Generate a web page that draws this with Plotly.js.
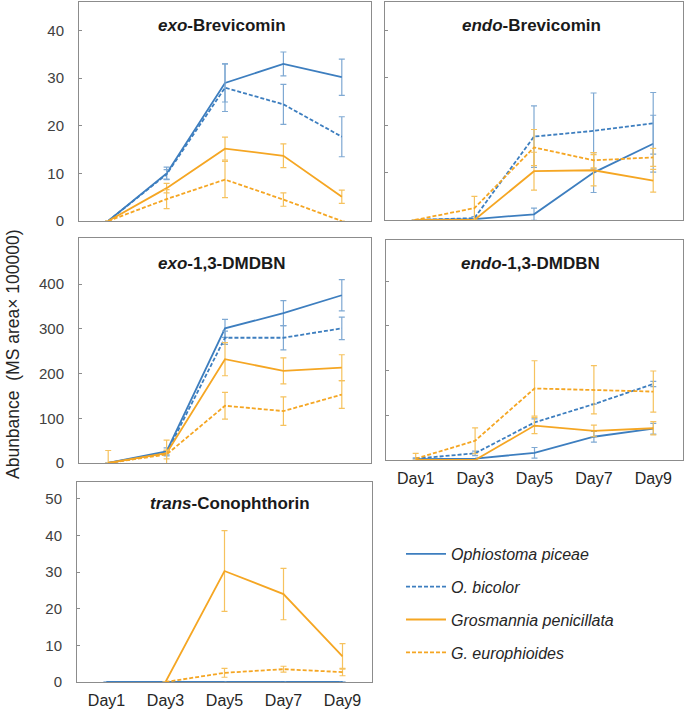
<!DOCTYPE html>
<html>
<head>
<meta charset="utf-8">
<script src="https://cdn.plot.ly/plotly-3.0.1.min.js"></script>
<style>html,body{margin:0;padding:0;background:#fff}#chart{width:685px;height:712px}</style>
</head>
<body>
<div id="chart"></div>
<script>
// ---------- DATA ----------
const days = ["Day1", "Day3", "Day5", "Day7", "Day9"];
const seriesNames = ["Ophiostoma piceae", "O. bicolor", "Grosmannia penicillata", "G. europhioides"];
const panelTitles = ["<i>exo</i>-Brevicomin", "<i>endo</i>-Brevicomin", "<i>exo</i>-1,3-DMDBN", "<i>endo</i>-1,3-DMDBN", "<i>trans</i>-Conophthorin"];
const yTitle = "Abunbance  (MS area× 100000)";
const brevTicks = [0, 10, 20, 30, 40];
const dmdbnTicks = [0, 100, 200, 300, 400];
const conTicks = [0, 10, 20, 30, 40, 50];

// exo-Brevicomin
const exoBrev_piceae = [0, 10, 29, 33, 30.2];
const exoBrev_piceae_err = [0, 1.3, 4, 2.5, 3.8];
const exoBrev_bicolor = [0, 9.8, 28, 24.5, 17.7];
const exoBrev_bicolor_err = [0, 1, 5, 4.2, 4.2];
const exoBrev_penicillata = [0, 6.9, 15.2, 13.7, 5.1];
const exoBrev_penicillata_err = [0, 1, 2.4, 2.5, 1.4];
const exoBrev_europhioides = [0, 4.6, 8.7, 4.5, 0];
const exoBrev_europhioides_err = [0, 2, 3.8, 1.4, 0];

// endo-Brevicomin
const endoBrev_piceae = [0, 0.2, 1.2, 10, 16.1];
const endoBrev_piceae_err = [0, 0, 1.3, 4.2, 6];
const endoBrev_bicolor = [0, 0.4, 17.6, 18.8, 20.4];
const endoBrev_bicolor_err = [0, 0.3, 6.5, 8, 6.5];
const endoBrev_penicillata = [0, 0, 10.3, 10.5, 8.3];
const endoBrev_penicillata_err = [0, 0, 4, 3.3, 2.4];
const endoBrev_europhioides = [0, 2.5, 15.3, 12.6, 13.2];
const endoBrev_europhioides_err = [0, 2.5, 3.8, 1.6, 1.9];

// exo-1,3-DMDBN
const exoDMDBN_piceae = [0, 26, 301, 335, 375];
const exoDMDBN_piceae_err = [0, 8, 20, 28, 35];
const exoDMDBN_bicolor = [0, 22, 280, 280, 301];
const exoDMDBN_bicolor_err = [0, 6, 15, 27, 25];
const exoDMDBN_penicillata = [0, 22, 232, 206, 213];
const exoDMDBN_penicillata_err = [28, 29, 37, 29, 29];
const exoDMDBN_europhioides = [0, 19, 128, 116, 153];
const exoDMDBN_europhioides_err = [0, 10, 30, 32, 31];

// endo-1,3-DMDBN
const endoDMDBN_piceae = [2, 3, 16, 52, 70];
const endoDMDBN_piceae_err = [3, 0, 12, 12, 12];
const endoDMDBN_bicolor = [3, 15, 84, 125, 170];
const endoDMDBN_bicolor_err = [0, 5, 8, 0, 6];
const endoDMDBN_penicillata = [0, 0, 77, 65, 71];
const endoDMDBN_penicillata_err = [0, 0, 18, 13, 15];
const endoDMDBN_europhioides = [3, 43, 160, 157, 153];
const endoDMDBN_europhioides_err = [12, 29, 62, 54, 46];

// trans-Conophthorin
const transCon_piceae = [0, 0, 0, 0, 0];
const transCon_piceae_err = [0, 0, 0, 0, 0];
const transCon_bicolor = [0, 0, 0, 0, 0];
const transCon_bicolor_err = [0, 0, 0, 0, 0];
const transCon_penicillata = [null, 0, 30.3, 24, 7];
const transCon_penicillata_err = [0, 0, 11, 7, 3.5];
const transCon_europhioides = [null, 0, 2.5, 3.5, 2.7];
const transCon_europhioides_err = [0, 0, 1.2, 0.8, 1];

// ---------- STYLE ----------
const W = 685, H = 712;
const BLUE = "#3d7ebf", BLUE_ERR = "#7fa9d3";
const ORANGE = "#f5a623", ORANGE_ERR = "#f6c25e";
const styles = [
  {color: BLUE, err: BLUE_ERR, dash: "solid"},
  {color: BLUE, err: BLUE_ERR, dash: "4px,2px"},
  {color: ORANGE, err: ORANGE_ERR, dash: "solid"},
  {color: ORANGE, err: ORANGE_ERR, dash: "4px,2px"}
];

const panels = [
  {data: [[exoBrev_piceae, exoBrev_piceae_err], [exoBrev_bicolor, exoBrev_bicolor_err], [exoBrev_penicillata, exoBrev_penicillata_err], [exoBrev_europhioides, exoBrev_europhioides_err]],
   box: [79, 371, 2, 221], yr: [0, 46], ticks: brevTicks, ylabels: true, xlabels: false, title: [222, 25]},
  {data: [[endoBrev_piceae, endoBrev_piceae_err], [endoBrev_bicolor, endoBrev_bicolor_err], [endoBrev_penicillata, endoBrev_penicillata_err], [endoBrev_europhioides, endoBrev_europhioides_err]],
   box: [385, 683, 2, 220], yr: [0, 46], ticks: brevTicks, ylabels: false, xlabels: false, title: [531, 25]},
  {data: [[exoDMDBN_piceae, exoDMDBN_piceae_err], [exoDMDBN_bicolor, exoDMDBN_bicolor_err], [exoDMDBN_penicillata, exoDMDBN_penicillata_err], [exoDMDBN_europhioides, exoDMDBN_europhioides_err]],
   box: [79, 371, 238, 463], yr: [0, 503], ticks: dmdbnTicks, ylabels: true, xlabels: false, title: [222, 263]},
  {data: [[endoDMDBN_piceae, endoDMDBN_piceae_err], [endoDMDBN_bicolor, endoDMDBN_bicolor_err], [endoDMDBN_penicillata, endoDMDBN_penicillata_err], [endoDMDBN_europhioides, endoDMDBN_europhioides_err]],
   box: [386, 683, 240, 460], yr: [0, 492], ticks: dmdbnTicks, ylabels: false, xlabels: true, title: [530, 263]},
  {data: [[transCon_piceae, transCon_piceae_err], [transCon_bicolor, transCon_bicolor_err], [transCon_penicillata, transCon_penicillata_err], [transCon_europhioides, transCon_europhioides_err]],
   box: [77, 372, 482, 682], yr: [0, 54.6], ticks: conTicks, ylabels: true, xlabels: true, title: [230, 503]}
];

const traces = [];
const layout = {
  width: W, height: H,
  margin: {l: 0, r: 0, t: 0, b: 0},
  paper_bgcolor: "#fff", plot_bgcolor: "#fff",
  font: {family: "Liberation Sans, Arial, sans-serif", color: "#262626"},
  showlegend: true,
  legend: {
    x: 401 / W, y: 1 - 537 / H, xanchor: "left", yanchor: "top",
    traceorder: "grouped", tracegroupgap: 9, itemwidth: 40,
    font: {size: 16, style: "italic", color: "#262626"},
    bgcolor: "rgba(0,0,0,0)"
  },
  annotations: [],
  shapes: []
};

panels.forEach((p, i) => {
  const n = i + 1;
  const xa = "x" + (n === 1 ? "" : n), ya = "y" + (n === 1 ? "" : n);
  const xk = "xaxis" + (n === 1 ? "" : n), yk = "yaxis" + (n === 1 ? "" : n);
  p.data.forEach((d, s) => {
    traces.push({
      type: "scatter", mode: "lines", x: days, y: d[0],
      xaxis: xa, yaxis: ya,
      name: seriesNames[s], legendgroup: "g" + s,
      showlegend: i === 0,
      line: {color: styles[s].color, width: 1.8, dash: styles[s].dash},
      error_y: {type: "data", array: d[1], visible: true, color: styles[s].err, thickness: 1.2, width: 3},
      cliponaxis: false,
      hoverinfo: "skip"
    });
  });
  const [x0, x1, y0, y1] = p.box;
  layout[xk] = {
    domain: [x0 / W, x1 / W], anchor: ya,
    type: "category", range: [-0.5, 4.5],
    showline: true, mirror: true, linecolor: "#8c8c8c", linewidth: 1,
    ticks: "", showgrid: false, zeroline: false,
    showticklabels: p.xlabels, tickfont: {size: 16, color: "#262626"},
    ticklabelstandoff: 4, fixedrange: true
  };
  layout[yk] = {
    domain: [1 - y1 / H, 1 - y0 / H], anchor: xa,
    range: p.yr, tickmode: "array", tickvals: p.ticks,
    showline: true, mirror: true, linecolor: "#8c8c8c", linewidth: 1,
    ticks: "inside", ticklen: 3, tickcolor: "#8c8c8c",
    showgrid: false, zeroline: false,
    showticklabels: p.ylabels, tickfont: {size: 15, color: "#404040"},
    ticklabelstandoff: 11, fixedrange: true
  };
  layout.annotations.push({
    xref: "paper", yref: "paper", x: p.title[0] / W, y: 1 - p.title[1] / H,
    xanchor: "center", yanchor: "middle", showarrow: false,
    text: "<b>" + panelTitles[i] + "</b>",
    font: {size: 17, color: "#1a1a1a"}
  });
});

layout.annotations.push({
  xref: "paper", yref: "paper", x: 13 / W, y: 1 - 354 / H,
  xanchor: "center", yanchor: "middle", showarrow: false, textangle: -90,
  text: yTitle, font: {size: 17.5, color: "#262626"}
});

Plotly.newPlot("chart", traces, layout, {staticPlot: true});
</script>
</body>
</html>
